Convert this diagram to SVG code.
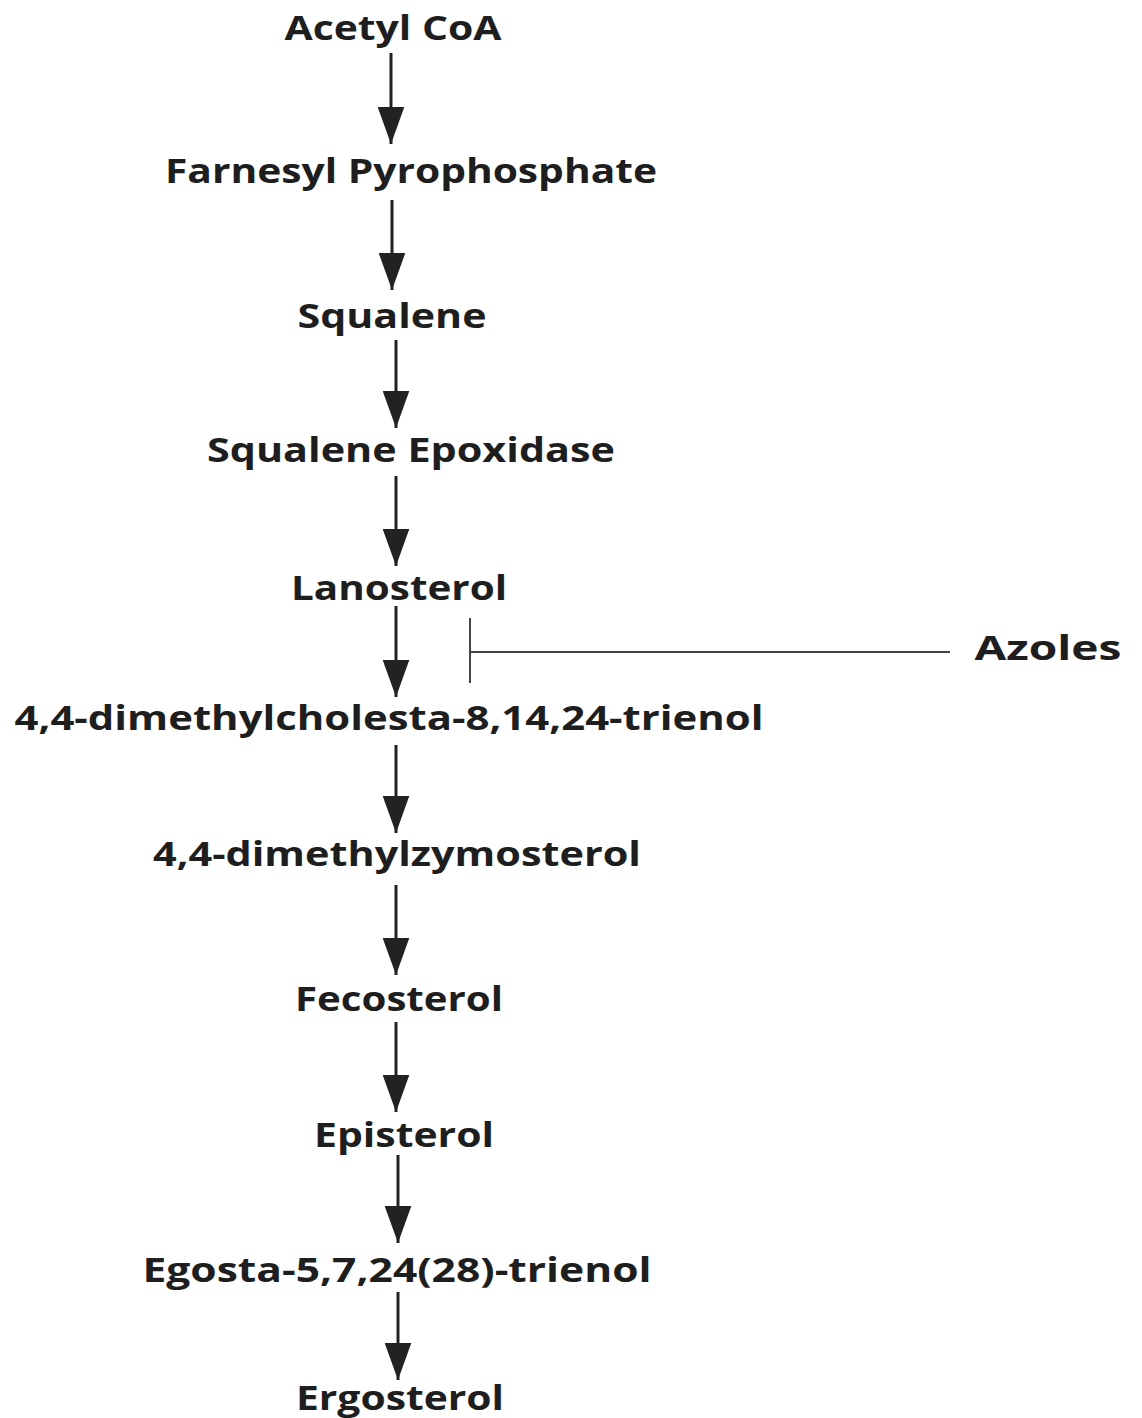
<svg xmlns="http://www.w3.org/2000/svg" width="1142" height="1418" viewBox="0 0 1142 1418">
<style>
text{font-family:"Open Sans","Liberation Sans",sans-serif;font-weight:bold;font-size:34px;fill:#1e1e1e;text-anchor:middle}
.ar{stroke:#222;stroke-width:3;fill:none;marker-end:url(#ah)}
.inh{stroke:#444;stroke-width:2;fill:none}
</style>
<defs>
<marker id="ah" markerWidth="12.5" markerHeight="9" refX="12.5" refY="4.5" orient="auto" markerUnits="strokeWidth" viewBox="0 0 12.5 9">
<path d="M0,0 L12.5,4.5 L0,9 Z" fill="#222"/>
</marker>
</defs>
<rect width="1142" height="1418" fill="#fff"/>
<g id="n1"><text x="393" y="40" textLength="217" lengthAdjust="spacingAndGlyphs">Acetyl CoA</text></g>
<g id="n2"><text x="411" y="183" textLength="492" lengthAdjust="spacingAndGlyphs">Farnesyl Pyrophosphate</text></g>
<g id="n3"><text x="392" y="328" textLength="189" lengthAdjust="spacingAndGlyphs">Squalene</text></g>
<g id="n4"><text x="411" y="462" textLength="408" lengthAdjust="spacingAndGlyphs">Squalene Epoxidase</text></g>
<g id="n5"><text x="399" y="600" textLength="216" lengthAdjust="spacingAndGlyphs">Lanosterol</text></g>
<g id="n6"><text x="389" y="730" textLength="749" lengthAdjust="spacingAndGlyphs">4,4-dimethylcholesta-8,14,24-trienol</text></g>
<g id="n7"><text x="397" y="866" textLength="488" lengthAdjust="spacingAndGlyphs">4,4-dimethylzymosterol</text></g>
<g id="n8"><text x="399" y="1011" textLength="208" lengthAdjust="spacingAndGlyphs">Fecosterol</text></g>
<g id="n9"><text x="404" y="1147" textLength="180" lengthAdjust="spacingAndGlyphs">Episterol</text></g>
<g id="n10"><text x="397" y="1282" textLength="509" lengthAdjust="spacingAndGlyphs">Egosta-5,7,24(28)-trienol</text></g>
<g id="n11"><text x="400" y="1410" textLength="208" lengthAdjust="spacingAndGlyphs">Ergosterol</text></g>
<g id="n12"><text x="1048" y="660" textLength="147" lengthAdjust="spacingAndGlyphs">Azoles</text></g>
<g id="connectors">
<line class="ar" x1="391" y1="53" x2="391" y2="144"/>
<line class="ar" x1="392" y1="200" x2="392" y2="290"/>
<line class="ar" x1="396" y1="340" x2="396" y2="428"/>
<line class="ar" x1="396" y1="476" x2="396" y2="566"/>
<line class="ar" x1="396" y1="606" x2="396" y2="697"/>
<line class="ar" x1="396" y1="745" x2="396" y2="833"/>
<line class="ar" x1="396" y1="885" x2="396" y2="975"/>
<line class="ar" x1="396" y1="1022" x2="396" y2="1112"/>
<line class="ar" x1="398" y1="1155" x2="398" y2="1243"/>
<line class="ar" x1="398" y1="1292" x2="398" y2="1380"/>
<line class="inh" x1="470" y1="618" x2="470" y2="683"/>
<line class="inh" x1="470" y1="652" x2="950" y2="652"/>
</g>
</svg>
